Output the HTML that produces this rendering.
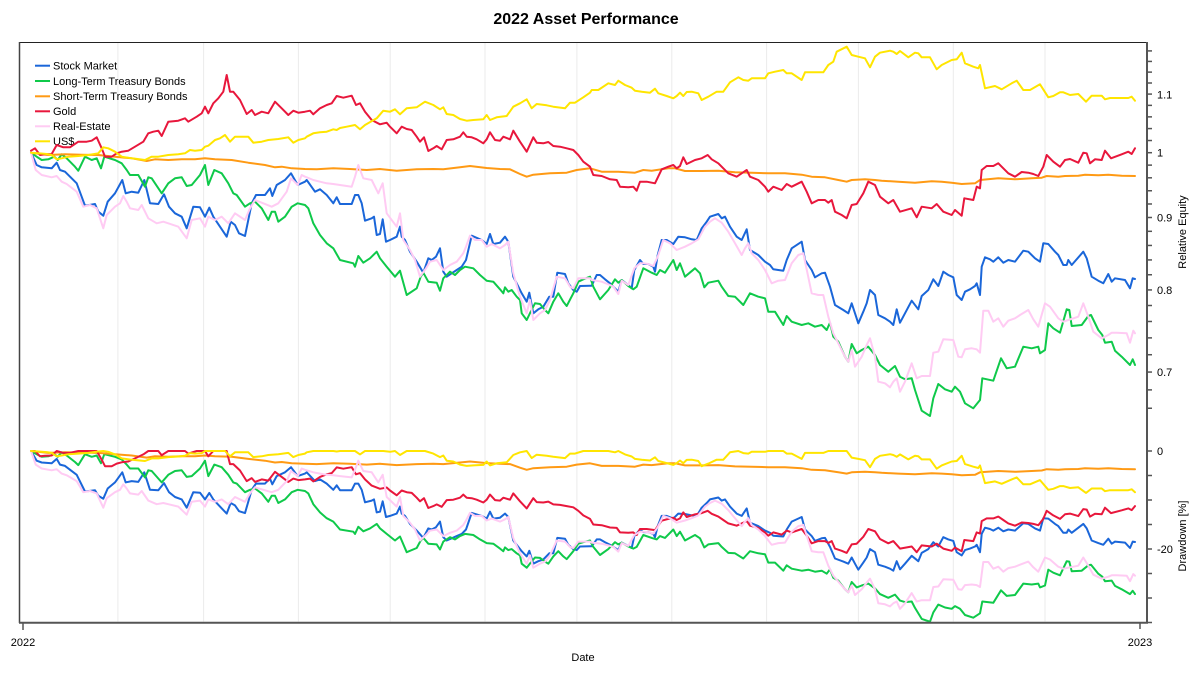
<!DOCTYPE html>
<html><head><meta charset="utf-8"><style>
html,body{margin:0;padding:0;background:#fff;}
svg{display:block;}
</style></head><body>
<svg id="c" width="1200" height="675" xmlns="http://www.w3.org/2000/svg" font-family="'Liberation Sans', sans-serif">
<rect x="0" y="0" width="1200" height="675" fill="#fff"/>
<text x="586" y="24" font-size="16" font-weight="bold" text-anchor="middle" fill="#000">2022 Asset Performance</text>
<g id="grid" stroke="#ebebeb" stroke-width="1"></g>
<g id="legend" font-size="11" fill="#000">
 <line x1="35" y1="65.7" x2="50" y2="65.7" stroke="#1a66d9" stroke-width="2"/><text x="53" y="69.5">Stock Market</text>
 <line x1="35" y1="81" x2="50" y2="81" stroke="#0fc94a" stroke-width="2"/><text x="53" y="84.8">Long-Term Treasury Bonds</text>
 <line x1="35" y1="96.3" x2="50" y2="96.3" stroke="#ff9a14" stroke-width="2"/><text x="53" y="100.1">Short-Term Treasury Bonds</text>
 <line x1="35" y1="111.3" x2="50" y2="111.3" stroke="#e8173c" stroke-width="2"/><text x="53" y="115.1">Gold</text>
 <line x1="35" y1="126.3" x2="50" y2="126.3" stroke="#ffcbf3" stroke-width="2"/><text x="53" y="130.1">Real-Estate</text>
 <line x1="35" y1="141.3" x2="50" y2="141.3" stroke="#ffe500" stroke-width="2"/><text x="53" y="145.1">US$</text>
</g>
<g id="lines" fill="none" stroke-width="2" stroke-linejoin="round" stroke-linecap="round"></g>
<!-- frame -->
<line x1="19" y1="42.5" x2="1147" y2="42.5" stroke="#222" stroke-width="1"/>
<line x1="19.5" y1="42" x2="19.5" y2="623" stroke="#444" stroke-width="1.5"/>
<line x1="19" y1="622.7" x2="1148" y2="622.7" stroke="#555" stroke-width="2"/>
<line x1="1147" y1="42" x2="1147" y2="623.5" stroke="#555" stroke-width="2"/>
<g id="ticks" stroke="#555" stroke-width="1.5"></g>
<line x1="23" y1="622" x2="23" y2="630" stroke="#555" stroke-width="1.5"/>
<line x1="1140" y1="622" x2="1140" y2="629" stroke="#555" stroke-width="1.5"/>
<g font-size="11" fill="#000">
 <text x="23" y="646" text-anchor="middle">2022</text>
 <text x="1140" y="646" text-anchor="middle">2023</text>
 <text x="583" y="661" text-anchor="middle">Date</text>
 <text x="1157" y="98.3">1.1</text>
 <text x="1157" y="156.7">1</text>
 <text x="1157" y="221.7">0.9</text>
 <text x="1157" y="294">0.8</text>
 <text x="1157" y="376">0.7</text>
 <text x="1157" y="455">0</text>
 <text x="1157" y="553">-20</text>
 <text transform="translate(1186,232) rotate(-90)" text-anchor="middle">Relative Equity</text>
 <text transform="translate(1186,536) rotate(-90)" text-anchor="middle">Drawdown [%]</text>
</g>
</svg>
<script>
(function(){
var NS="http://www.w3.org/2000/svg";
function el(parent,tag,attrs){var e=document.createElementNS(NS,tag);for(var k in attrs)e.setAttribute(k,attrs[k]);parent.appendChild(e);return e;}
var grid=document.getElementById('grid');
[117.9,203.6,298.4,390.2,485,576.9,671.8,766.6,858.4,953.3,1045].forEach(function(x){
 el(grid,'line',{x1:x,y1:43,x2:x,y2:621.5});
});
var ticks=document.getElementById('ticks');
for(var i=0;i<=26;i++){var v=0.66+i*0.02;var y=152.7-615*Math.log(v);el(ticks,'line',{x1:1147,y1:y,x2:1152,y2:y});}
for(var p=0;p<=35;p+=5){var y2=451+4.9*p;el(ticks,'line',{x1:1147,y1:y2,x2:1152,y2:y2});}

var C=[
{ox:15,oy:60,d:{
b:[48,278,65,315,80,322,110,325,125,308,135,330,150,335,185,370,210,437,240,432,250,455,265,467,278,425,300,400,322,360,332,400,350,395,370,398,388,360,405,430,430,432,447,403,462,440,480,460,500,470,515,505,535,440,555,442,570,470,583,443,595,470,615,500,635,530,647,485,660,495,672,520,690,528,710,430,723,405,750,405,765,385,772,408,785,375,810,360,828,340,848,375,870,365],
g:[48,278,65,290,80,300,100,298,118,290,128,300,140,283,155,295,180,320,190,332,210,290,230,300,245,295,258,325,268,290,300,300,320,310,335,330,345,345,370,345,390,380,400,352,410,355,440,400,460,370,480,355,500,352,515,378,530,375,555,345,570,315,580,375,598,330,620,340,640,370,655,400,665,405,690,440,705,430,720,425,740,445,760,480,770,455,780,455,790,485,810,470,830,440,848,430,870,435],
o:[48,278,100,285,150,283,200,284,250,285,300,290,350,295,395,303,420,298,460,300,500,298,540,298,570,295,600,298,650,300,700,308,750,315,780,322,800,320,830,325,870,327],
r:[48,272,60,265,75,285,90,283,110,282,125,255,145,262,165,262,190,245,215,245,230,242,245,232,260,265,270,290,290,290,305,280,320,275,340,272,360,260,385,245,400,220,415,215,430,212,440,228,460,185,490,182,510,175,520,185,545,170,560,160,570,140,580,160,595,130,610,115,625,95,635,45,645,95,655,95,675,120,695,162,710,150,720,165,740,155,760,160,780,125,800,145,820,165,835,152,850,158,870,155],
p:[48,278,62,330,80,345,110,352,125,348,140,365,155,372,185,395,205,440,225,435,245,445,265,505,275,465,300,440,315,430,325,408,335,425,345,445,370,450,380,435,400,475,425,490,445,485,460,490,490,500,515,535,530,480,555,475,570,500,580,470,600,480,620,470,640,490,660,460,690,480,705,445,720,420,745,430,770,440,790,430,815,395,828,355,848,375,860,345,870,350],
y:[48,278,70,280,95,282,110,285,125,298,140,295,160,290,190,288,220,285,250,280,265,262,280,265,300,275,320,290,350,295,390,300,410,290,430,290,460,285,490,283,510,280,525,270,540,272,560,270,570,260,580,257,600,240,615,235,630,225,645,245,660,230,690,230,700,230,715,248,740,245,760,240,790,237,820,232,835,248,850,240,870,235]
}},
{ox:300,oy:80,d:{
b:[0,310,20,300,45,335,60,328,80,345,100,370,110,352,120,372,155,372,165,345,175,345,185,370,195,422,215,415,222,410,230,465,240,462,248,418,258,485,270,480,290,470,300,440,305,470,315,480,330,515,350,545,370,578,385,535,395,540,408,530,420,505,430,575,440,590,455,580,470,570,485,560,498,540,515,467,545,480,560,492,570,462,580,492,600,488,615,470,625,485,640,590,665,640,680,665,688,638,700,700,715,688,730,680,748,650,760,650,772,578,795,582,805,610,820,630,830,635,840,618,870,617],
g:[0,370,25,385,40,430,60,465,80,490,100,505,120,540,160,550,165,560,175,528,190,548,210,535,230,515,240,535,260,560,285,590,300,572,320,645,350,625,362,590,370,578,385,605,410,608,420,632,430,595,450,575,465,585,480,570,495,560,520,565,540,585,560,602,580,605,600,628,610,640,615,622,625,635,635,630,650,650,660,660,665,700,680,720,692,695,705,670,720,672,735,690,745,700,760,665,775,640,790,665,800,678,820,640,835,605,850,598,870,590],
o:[0,268,50,268,100,265,150,267,200,270,240,267,290,272,350,268,400,267,430,268,480,262,510,258,560,264,600,267,630,268,660,282,680,290,700,284,750,280,800,278,830,270,870,265],
r:[0,100,15,97,30,92,40,103,60,85,80,75,95,70,110,48,130,53,155,47,168,75,180,70,195,95,215,120,240,133,260,128,270,140,290,160,305,140,320,147,335,150,350,170,360,185,372,172,385,213,400,205,410,198,425,208,440,180,460,178,480,170,490,157,500,170,515,172,530,178,550,190,560,178,570,157,585,180,600,182,610,170,630,178,640,152,660,185,680,215,700,172,710,188,730,190,745,186,760,198,780,200,800,205,820,210,835,225,850,245,870,260],
p:[0,285,20,292,40,300,60,305,80,310,100,312,120,315,155,320,165,290,175,255,190,295,215,300,235,340,248,310,260,400,290,440,300,400,310,480,330,510,345,540,360,590,378,565,390,545,410,540,430,570,450,555,470,545,490,520,498,500,510,467,525,480,545,480,560,500,575,492,600,505,615,495,625,485,640,580,660,650,680,700,690,660,700,720,720,700,735,690,750,660,770,590,795,595,810,620,820,625,835,595,870,595],
y:[0,180,20,170,40,160,60,157,80,155,100,148,110,150,120,144,140,140,165,135,180,148,195,135,230,115,250,92,270,95,285,88,300,103,320,85,350,82,375,65,400,75,420,88,430,82,440,102,460,105,480,117,500,122,520,120,550,118,560,105,570,120,590,112,620,108,640,80,660,70,680,58,695,85,710,72,740,76,760,80,795,85,810,68,825,68,850,52,870,38]
}},
{ox:585,oy:40,d:{
b:[0,738,20,737,35,705,45,705,60,718,75,730,85,740,100,755,110,720,130,735,140,745,148,690,165,660,175,672,190,672,205,680,210,695,218,645,230,600,245,600,265,612,280,590,300,592,320,598,335,600,350,565,365,545,375,530,400,522,410,535,420,530,435,560,455,590,470,600,485,568,495,630,520,645,540,665,555,675,565,688,580,690,595,692,605,660,620,625,650,605,660,660,680,690,690,712,710,700,720,698,735,740,750,795,775,810,790,820,800,790,810,820,820,850,835,815,845,790,855,750,870,765],
g:[0,713,15,712,25,740,45,778,70,750,90,718,100,728,110,720,130,738,145,748,155,740,175,685,200,698,215,705,225,690,240,698,265,660,275,690,285,670,300,710,330,685,345,700,358,742,370,728,400,722,410,740,430,768,450,770,475,795,495,760,520,770,540,775,550,815,570,815,595,855,605,828,620,845,650,855,670,850,690,860,710,855,725,870,735,848,745,890,760,905,780,950,790,965,800,912,815,940,830,930,850,920,870,945],
o:[0,387,50,395,100,395,150,398,175,390,200,392,250,385,270,385,300,393,350,393,400,392,450,397,500,398,550,400,600,400,650,404,680,410,720,412,760,420,785,425,800,420,840,418,870,420],
r:[0,360,10,375,25,405,50,408,75,418,95,420,105,440,130,442,145,440,155,452,165,425,185,425,210,430,230,388,250,380,265,375,275,385,285,378,295,352,305,372,330,360,350,355,368,345,380,358,400,370,415,385,430,400,455,410,470,400,485,390,495,410,520,420,540,440,550,455,565,440,590,450,605,432,620,440,650,425,665,455,680,490,700,480,720,480,730,488,740,480,750,515,770,525,785,535,800,495,815,492,835,460,850,425,870,435],
p:[0,715,20,720,50,725,75,735,85,740,100,762,110,722,130,735,148,685,165,670,175,670,190,672,205,678,218,650,235,600,255,610,275,630,300,620,320,610,340,598,360,560,375,545,390,535,410,548,430,575,450,610,470,645,480,625,490,610,500,640,520,660,540,690,560,730,580,722,600,720,620,670,640,645,655,640,680,760,700,765,715,765,730,830,745,880,760,910,780,950,790,965,800,930,810,980,830,950,845,915,855,895,870,950],
y:[0,170,20,150,40,150,70,130,90,135,100,122,120,135,140,143,150,152,170,155,195,158,210,146,220,160,245,168,265,175,275,168,285,158,295,168,305,156,320,155,340,160,350,180,370,170,395,155,415,155,435,127,460,112,475,120,490,122,500,115,540,115,550,100,570,95,595,90,605,100,620,100,650,120,660,97,715,97,730,75,745,65,755,35,785,20,800,45,820,50,840,55,855,82,870,50]
}},
{ox:865,oy:40,d:{
b:[0,810,10,750,20,752,30,770,40,825,60,835,75,845,85,855,95,808,105,848,120,820,140,782,160,808,170,768,190,750,205,718,220,738,235,695,250,705,265,712,275,765,290,780,300,755,315,748,330,738,335,730,345,765,350,680,360,652,375,658,385,665,400,652,415,668,430,660,450,665,475,632,490,635,510,655,525,665,535,610,550,612,570,635,580,645,595,675,605,675,610,660,620,675,655,635,665,655,680,710,700,722,715,730,730,702,740,725,750,715,780,720,795,745,803,715,810,717],
g:[0,918,10,915,25,945,45,975,70,995,90,978,105,1010,120,1018,140,1015,150,1050,170,1112,195,1128,205,1075,220,1032,240,1048,260,1055,270,1040,285,1055,300,1090,325,1105,345,1080,352,1015,385,1022,408,955,425,985,450,980,475,920,500,925,520,920,525,940,540,930,550,850,565,865,585,878,605,808,613,810,620,858,650,855,670,828,678,825,700,870,712,885,720,908,740,905,750,932,770,950,795,975,803,958,810,975],
o:[0,418,50,422,100,425,150,428,200,424,230,425,260,428,290,432,330,430,345,420,400,415,450,418,500,415,530,413,545,408,580,410,600,408,640,407,660,404,700,406,730,404,770,407,810,408],
r:[0,458,12,428,25,438,45,470,70,490,85,480,105,515,140,505,155,532,170,500,200,505,215,492,235,515,260,525,270,510,290,527,298,475,325,480,335,440,345,445,350,390,365,378,385,378,400,370,415,385,430,400,450,410,470,396,490,398,505,402,520,408,535,380,545,345,565,365,585,380,600,360,615,357,640,368,655,338,665,340,675,370,690,358,710,360,720,332,738,355,770,343,790,335,800,342,810,325],
p:[0,935,15,895,25,960,40,1025,60,1030,75,1042,85,1025,95,1015,105,1055,120,1025,140,970,155,1015,170,1008,195,1008,205,938,220,935,235,898,265,900,280,950,290,952,300,928,320,925,335,928,345,938,355,812,370,812,385,845,400,835,415,860,430,842,450,835,465,825,490,810,505,838,520,860,540,790,555,800,580,835,595,845,610,840,640,830,655,790,670,830,685,875,710,895,730,885,740,878,755,878,785,880,795,908,805,872,810,880],
y:[0,55,10,85,25,50,45,38,75,32,85,35,95,42,105,33,130,52,150,38,160,40,170,52,195,52,215,88,230,75,260,60,275,58,290,38,300,70,325,80,340,85,345,75,360,145,390,138,410,148,440,130,455,122,475,150,495,150,525,133,550,172,565,168,585,157,595,157,615,165,640,162,663,185,680,167,710,167,720,178,735,174,790,174,800,170,810,182]
}}
];
var keys=['b','g','o','r','p','y'];
var col={b:'#1a66d9',g:'#0fc94a',o:'#ff9a14',r:'#e8173c',p:'#ffcbf3',y:'#ffe500'};
var lines=document.getElementById('lines');
var pts={};
keys.forEach(function(k){
 var a=[];
 C.forEach(function(c){
  var d=c.d[k];var last=a.length?a[a.length-1][0]:-1;
  for(var i=0;i<d.length;i+=2){var x=c.ox+d[i]/3,y=c.oy+d[i+1]/3;if(x>last+0.01){a.push([x,y]);last=x;}}
 });
 pts[k]=a;
});
function path(a){return a.map(function(p,i){return (i?'L':'M')+p[0].toFixed(1)+' '+p[1].toFixed(1);}).join('');}
keys.forEach(function(k){
 el(lines,'path',{d:path(pts[k]),stroke:col[k]});
});
keys.forEach(function(k){
 var m=0;var dd=pts[k].map(function(p){
  var v=Math.exp((152.7-p[1])/615);if(v>m)m=v;var d=1-v/m;return [p[0],451+d*490];
 });
 el(lines,'path',{d:path(dd),stroke:col[k]});
});
})();
</script>
</body></html>
